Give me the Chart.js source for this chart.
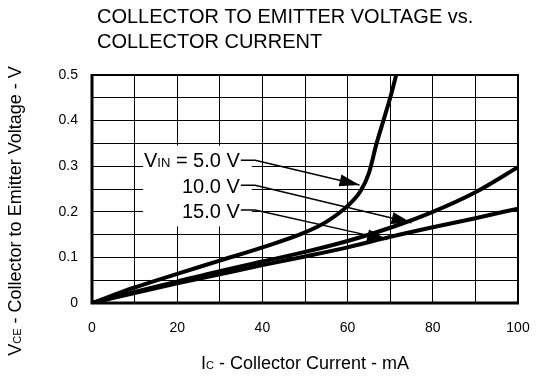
<!DOCTYPE html>
<html lang="en">
<head>
<meta charset="UTF-8">
<title>Collector to Emitter Voltage vs. Collector Current</title>
<script src="https://cdn.jsdelivr.net/npm/chart.js"></script>
<style>
  body { margin: 0; background: #fff; }
</style>
</head>
<body>
<canvas id="myChart" width="539" height="376"></canvas>
<script>
// values: collector current (mA) -> V_CE (V)
const current5 = [0, 10, 20, 30, 40, 50, 55, 60, 63, 65, 66.8, 68.4, 70, 71.4];
const vce5 = [0, 0.034, 0.064, 0.093, 0.122, 0.155, 0.178, 0.213, 0.245, 0.285, 0.35, 0.4, 0.45, 0.5];
const current = [0, 10, 20, 30, 40, 50, 60, 70, 80, 90, 100];
const vce10 = [0, 0.024, 0.047, 0.07, 0.091, 0.112, 0.136, 0.165, 0.2, 0.243, 0.298];
const vce15 = [0, 0.022, 0.043, 0.063, 0.083, 0.102, 0.122, 0.145, 0.166, 0.186, 0.207];
const xTickLabels = [0, 20, 40, 60, 80, 100];
const yTickLabels = [0, 0.1, 0.2, 0.3, 0.4, 0.5];
const seriesNames = ['5.0 V', '10.0 V', '15.0 V'];

const FONT = '"Liberation Sans", Arial, sans-serif';

// curve labels with arrows (data units)
const arrows = [
	{ text: [['V', 20], ['IN', 13], [' = 5.0 V', 20]], at: [34.7, 0.314], from: [38.3, 0.313], to: [62.8, 0.259] },
	{ text: [['10.0 V', 20]], at: [34.7, 0.256], from: [38.3, 0.258], to: [75, 0.176] },
	{ text: [['15.0 V', 20]], at: [34.7, 0.201], from: [38.3, 0.204], to: [69.3, 0.139] }
];

function toPoints(xs, ys) {
	return xs.map((x, i) => ({ x: x, y: ys[i] }));
}

function richWidth(ctx, parts) {
	let w = 0;
	parts.forEach(p => { ctx.font = p[1] + 'px ' + FONT; w += ctx.measureText(p[0]).width; });
	return w;
}

function drawRich(ctx, parts, x, y, align) {
	const w = richWidth(ctx, parts);
	let cx = align === 'right' ? x - w : align === 'center' ? x - w / 2 : x;
	ctx.textAlign = 'left';
	ctx.textBaseline = 'alphabetic';
	parts.forEach(p => {
		ctx.font = p[1] + 'px ' + FONT;
		ctx.fillText(p[0], cx, y);
		cx += ctx.measureText(p[0]).width;
	});
}

const decorPlugin = {
	id: 'decor',
	beforeDatasetsDraw(chart) {
		const ctx = chart.ctx, xs = chart.scales.x, ys = chart.scales.y;
		// white box behind the curve labels
		ctx.save();
		ctx.fillStyle = '#fff';
		const l = xs.getPixelForValue(12), r = xs.getPixelForValue(37.5);
		const t = ys.getPixelForValue(0.345), b = ys.getPixelForValue(0.168);
		ctx.fillRect(l, t, r - l, b - t);
		ctx.restore();
	},
	afterDatasetsDraw(chart) {
		const ctx = chart.ctx, xs = chart.scales.x, ys = chart.scales.y;
		const a = chart.chartArea;
		ctx.save();
		ctx.strokeStyle = '#000';
		ctx.lineWidth = 2;
		ctx.strokeRect(a.left, a.top, a.right - a.left, a.bottom - a.top);
		ctx.lineWidth = 3;
		ctx.beginPath();
		ctx.moveTo(a.left, a.top - 1);
		ctx.lineTo(a.left, a.bottom);
		ctx.lineTo(a.right + 1, a.bottom);
		ctx.stroke();

		ctx.fillStyle = '#000';
		arrows.forEach(ar => {
			const tx = xs.getPixelForValue(ar.at[0]);
			const ty = ys.getPixelForValue(ar.at[1]);
			drawRich(ctx, ar.text, tx, ty + 7, 'right');
			const x0 = xs.getPixelForValue(ar.from[0]), y0 = ys.getPixelForValue(ar.from[1]);
			const x1 = xs.getPixelForValue(ar.to[0]), y1 = ys.getPixelForValue(ar.to[1]);
			ctx.lineWidth = 1.5;
			ctx.beginPath();
			ctx.moveTo(tx + 1, y0);
			ctx.lineTo(x0, y0);
			ctx.lineTo(x1, y1);
			ctx.stroke();
			const ang = Math.atan2(y1 - y0, x1 - x0);
			const len = 20, half = 6;
			const bx = x1 - len * Math.cos(ang), by = y1 - len * Math.sin(ang);
			ctx.beginPath();
			ctx.moveTo(x1, y1);
			ctx.lineTo(bx + half * Math.sin(ang), by - half * Math.cos(ang));
			ctx.lineTo(bx - half * Math.sin(ang), by + half * Math.cos(ang));
			ctx.closePath();
			ctx.fill();
		});
		ctx.restore();
	},
	afterDraw(chart) {
		const ctx = chart.ctx;
		const a = chart.chartArea;
		ctx.save();
		ctx.fillStyle = '#000';
		drawRich(ctx, [['COLLECTOR TO EMITTER VOLTAGE vs.', 20]], 97, 23, 'left');
		drawRich(ctx, [['COLLECTOR CURRENT', 20]], 97, 48, 'left');
		drawRich(ctx, [['I', 18], ['C', 11], [' - Collector Current - mA', 18]], (a.left + a.right) / 2, 369, 'center');
		ctx.translate(21, 211);
		ctx.rotate(-Math.PI / 2);
		drawRich(ctx, [['V', 18], ['CE', 11], [' - Collector to Emitter Voltage - V', 18]], 0, 0, 'center');
		ctx.restore();
	}
};

const ctx = document.getElementById('myChart').getContext('2d');
const lineStyle = { borderColor: '#000', borderWidth: 4, pointRadius: 0, showLine: true, cubicInterpolationMode: 'monotone', fill: false };

const myChart = new Chart(ctx, {
	type: 'scatter',
	data: {
		datasets: [
			Object.assign({ label: seriesNames[0], data: toPoints(current5, vce5) }, lineStyle),
			Object.assign({ label: seriesNames[1], data: toPoints(current, vce10) }, lineStyle),
			Object.assign({ label: seriesNames[2], data: toPoints(current, vce15) }, lineStyle)
		]
	},
	options: {
		responsive: false,
		animation: false,
		layout: { padding: { top: 75, right: 21, left: 0, bottom: 0 } },
		plugins: { legend: { display: false }, tooltip: { enabled: false } },
		scales: {
			x: {
				type: 'linear', min: 0, max: 100,
				afterFit: s => { s.height = 73; s.paddingLeft = 0; s.paddingRight = 0; },
				grid: { color: '#000', lineWidth: 1, drawTicks: false },
				border: { display: false },
				ticks: {
					stepSize: 10, padding: 17, color: '#000', maxRotation: 0, autoSkip: false,
					font: { family: FONT, size: 14 },
					callback: v => xTickLabels.includes(v) ? String(v) : ''
				}
			},
			y: {
				type: 'linear', min: 0, max: 0.5,
				afterFit: s => { s.width = 92; s.paddingTop = 0; s.paddingBottom = 0; },
				grid: { color: '#000', lineWidth: 1, drawTicks: false },
				border: { display: false },
				ticks: {
					stepSize: 0.05, padding: 14, color: '#000', autoSkip: false,
					font: { family: FONT, size: 14 },
					callback: v => {
						const t = yTickLabels.find(t => Math.abs(t - v) < 1e-6);
						return t === undefined ? '' : String(t);
					}
				}
			}
		}
	},
	plugins: [decorPlugin]
});
</script>
</body>
</html>
